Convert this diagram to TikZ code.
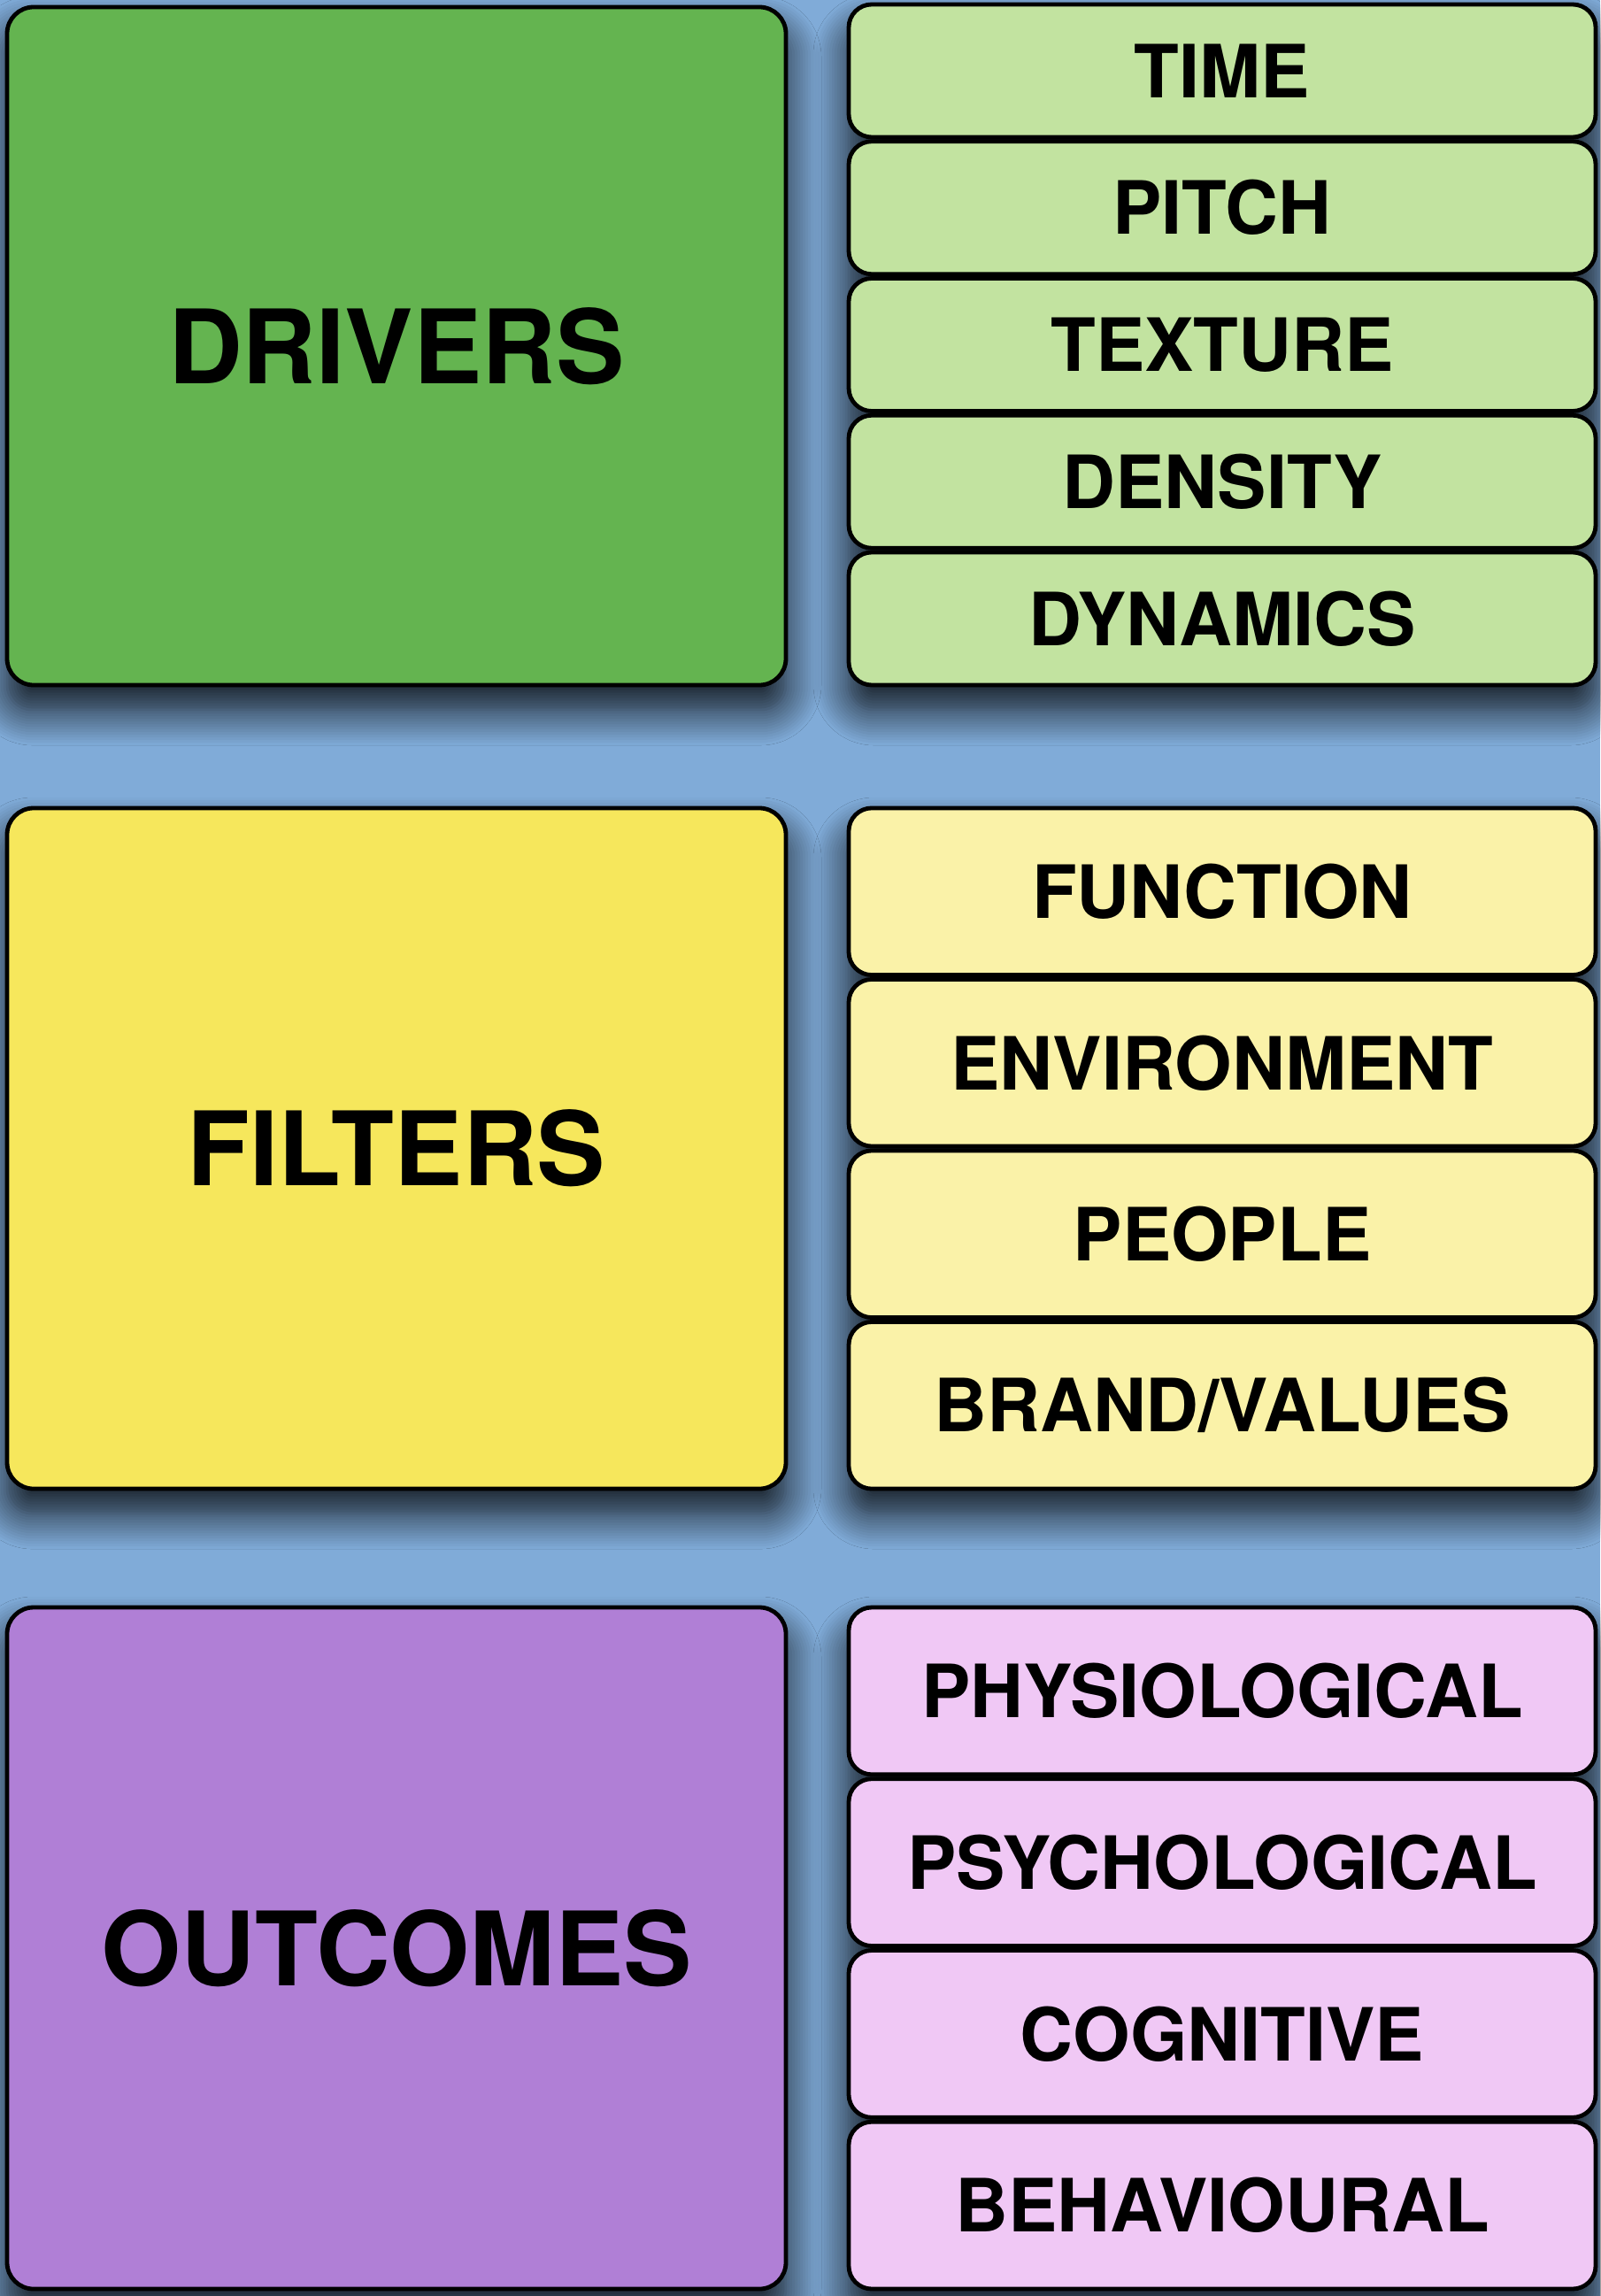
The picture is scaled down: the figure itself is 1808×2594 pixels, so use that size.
\documentclass[tikz,border=0pt]{standalone}
\usepackage{fontspec}
\setmainfont{TeX Gyre Heros}
\usetikzlibrary{shadows.blur}
\definecolor{bgblue}{HTML}{80ABD8}
\definecolor{drvbig}{HTML}{64B450}
\definecolor{drvsmall}{HTML}{C2E3A0}
\definecolor{filbig}{HTML}{F6E75C}
\definecolor{filsmall}{HTML}{FAF2A8}
\definecolor{outbig}{HTML}{B07FD6}
\definecolor{outsmall}{HTML}{F0C8F5}
\tikzset{
  card/.style={draw=black, line width=2.4pt, rectangle, align=center},
  bigcard/.style={card, rounded corners=15pt, minimum width=440pt,
    font=\bfseries\fontsize{58}{60}\selectfont},
  smallcard/.style={card, rounded corners=13pt, minimum width=422pt,
    font=\bfseries\fontsize{41.5}{44}\selectfont},
  greencard/.style={smallcard, fill=drvsmall, minimum height=75pt},
  yellowcard/.style={smallcard, fill=filsmall, minimum height=94.3pt},
  pinkcard/.style={smallcard, fill=outsmall, minimum height=94.4pt},
  castshadow/.style={rounded corners=14pt,
    blur shadow={shadow xshift=0pt, shadow yshift=-14pt,
                 shadow blur radius=20pt, shadow blur steps=14,
                 shadow opacity=88}},
}
\begin{document}
\begin{tikzpicture}[x=0.5pt, y=-0.5pt]
  % canvas
  \fill[bgblue] (0,0) rectangle (1808,2594);
  \useasboundingbox (0,0) rectangle (1808,2594);

  % drop shadows behind each card and each stack of cards
  \path[castshadow] (8,8)     rectangle (888,774);
  \path[castshadow] (8,913)   rectangle (888,1682);
  \path[castshadow] (8,1816)  rectangle (888,2586);
  \path[castshadow] (959,5)   rectangle (1803,774);
  \path[castshadow] (959,913) rectangle (1803,1682);
  \path[castshadow] (959,1816) rectangle (1803,2586);

  % main categories
  \node[bigcard, fill=drvbig,  minimum height=383pt] (drivers)  at (448,391)    {DRIVERS};
  \node[bigcard, fill=filbig,  minimum height=384.5pt] (filters)  at (448,1297.5) {FILTERS};
  \node[bigcard, fill=outbig,  minimum height=385pt] (outcomes) at (448,2201)   {OUTCOMES};

  % drivers
  \node[greencard] (time)     at (1381,80)     {TIME};
  \node[greencard] (pitch)    at (1381,234.75) {PITCH};
  \node[greencard] (texture)  at (1381,389.5)  {TEXTURE};
  \node[greencard] (density)  at (1381,544.25) {DENSITY};
  \node[greencard] (dynamics) at (1381,699)    {DYNAMICS};

  % filters
  \node[yellowcard] (function)    at (1381,1007.25) {FUNCTION};
  \node[yellowcard] (environment) at (1381,1200.75) {ENVIRONMENT};
  \node[yellowcard] (people)      at (1381,1394.25) {PEOPLE};
  \node[yellowcard] (brand)       at (1381,1587.75) {BRAND/VALUES};

  % outcomes
  \node[pinkcard] (physio)   at (1381,1910.4) {PHYSIOLOGICAL};
  \node[pinkcard] (psycho)   at (1381,2104.1) {PSYCHOLOGICAL};
  \node[pinkcard] (cognit)   at (1381,2297.9) {COGNITIVE};
  \node[pinkcard] (behav)    at (1381,2491.6) {BEHAVIOURAL};
\end{tikzpicture}
\end{document}
